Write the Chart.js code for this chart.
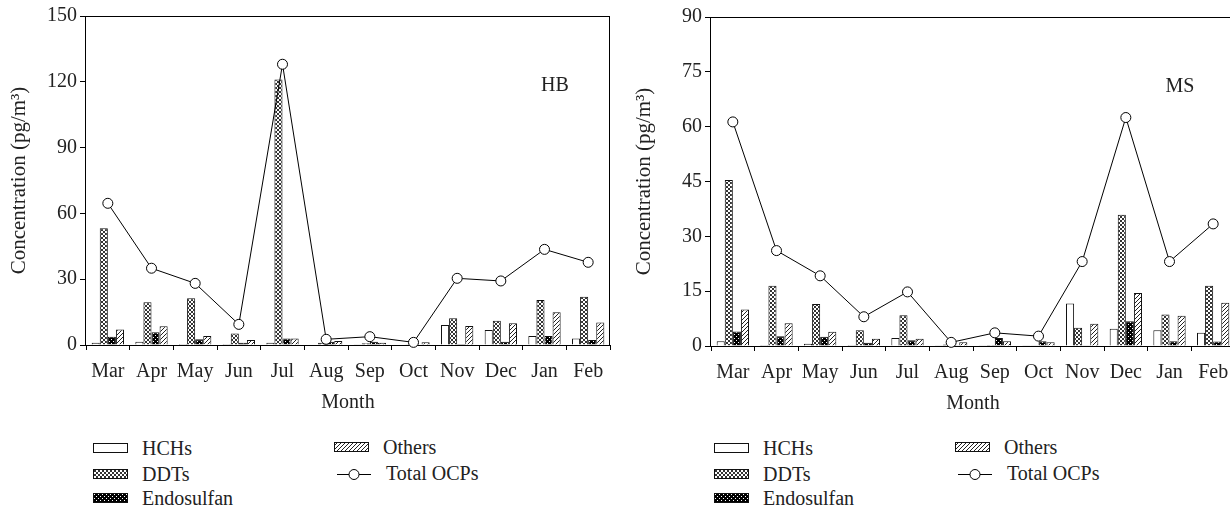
<!DOCTYPE html>
<html>
<head>
<meta charset="utf-8">
<script src="https://cdn.jsdelivr.net/npm/chart.js@4.4.0/dist/chart.umd.min.js"></script>
<style>
    html, body { margin: 0; padding: 0; background: #fff; overflow: hidden; width: 1230px; height: 508px; position: relative; }
    .box { position: absolute; }
    .lg-text { position: absolute; font: 20px "Liberation Serif", serif; color: #222; line-height: 24px; white-space: nowrap; }
    .lg-swatch { position: absolute; }
</style>
</head>
<body>
<div class="box" style="left:0; top:0; width:620px; height:420px;"><canvas id="chartHB"></canvas></div>
<div class="box" style="left:625px; top:1px; width:620px; height:420px;"><canvas id="chartMS"></canvas></div>
<div id="legends"></div>

<script>
// Month labels (sampling started in March)
const months = ['Mar', 'Apr', 'May', 'Jun', 'Jul', 'Aug', 'Sep', 'Oct', 'Nov', 'Dec', 'Jan', 'Feb'];

// HB site, pg/m3
const hbHCHs   = [1.0, 1.5, 0.5, 0.5, 1.0, 0.2, 0.3, 0.2, 9.1, 6.8, 4.1, 3.0];
const hbDDTs   = [53.2, 19.5, 21.3, 5.3, 121.0, 1.0, 0.8, 0.3, 12.2, 11.1, 20.5, 22.0];
const hbEndo   = [3.8, 5.8, 2.6, 1.0, 3.0, 1.5, 1.5, 0.2, 0.5, 1.5, 4.1, 2.3];
const hbOthers = [7.1, 8.5, 4.1, 2.3, 3.0, 1.8, 1.0, 1.2, 8.7, 9.9, 14.9, 10.3];
const hbTotal  = [64.6, 35.0, 28.1, 9.4, 128.0, 2.6, 3.8, 1.2, 30.4, 29.2, 43.6, 37.7];

// MS site, pg/m3
const msHCHs   = [1.3, 0.3, 0.6, 0.3, 2.2, 0.2, 0.2, 0.2, 11.6, 4.7, 4.3, 3.6];
const msDDTs   = [45.4, 16.5, 11.5, 4.3, 8.4, 0.4, 0.3, 0.2, 5.0, 35.9, 8.6, 16.5];
const msEndo   = [4.0, 2.7, 2.5, 0.9, 1.6, 0.2, 2.2, 1.3, 0.1, 6.8, 1.3, 1.2];
const msOthers = [10.0, 6.2, 3.9, 2.0, 2.0, 1.0, 1.3, 1.0, 6.1, 14.5, 8.3, 11.8];
const msTotal  = [61.3, 26.1, 19.2, 8.0, 14.8, 1.0, 3.6, 2.7, 23.1, 62.5, 23.1, 33.4];

const FONT = '"Liberation Serif", serif';
Chart.defaults.font.family = FONT;
Chart.defaults.font.size = 20;
Chart.defaults.color = '#222';

// Build small pixel tiles used as bar fill patterns
function makePattern(kind) {
    const tile = document.createElement('canvas');
    tile.width = 4;
    tile.height = 4;
    const g = tile.getContext('2d');
    if (kind === 'dots') {
        g.fillStyle = '#000';
        g.fillRect(0, 0, 4, 4);
        g.fillStyle = '#fff';
        g.fillRect(1, 1, 1, 1);
        g.fillRect(3, 3, 1, 1);
    } else {
        g.fillStyle = '#fff';
        g.fillRect(0, 0, 4, 4);
        g.fillStyle = kind === 'cross' ? '#333' : '#222';
        for (let i = 0; i < 4; i++) {
            g.fillRect(3 - i, i, 1, 1); // "/" diagonal
            if (kind === 'cross') g.fillRect(i, i, 1, 1); // "\" diagonal
        }
    }
    return g.createPattern(tile, 'repeat');
}

const fills = {
    hch: '#fff',
    ddt: makePattern('cross'),
    endo: makePattern('dots'),
    others: makePattern('hatch')
};

// Plot frame drawn under the datasets, plus the site tag
const framePlugin = {
    id: 'frame',
    beforeDatasetsDraw(chart) {
        const { ctx, chartArea: a } = chart;
        ctx.save();
        ctx.strokeStyle = '#000';
        ctx.lineWidth = 1;
        ctx.strokeRect(Math.round(a.left) - 0.5, Math.round(a.top) + 0.5, Math.round(a.right - a.left), Math.round(a.bottom - a.top));
        ctx.restore();
    },
    afterDraw(chart, args, opts) {
        const { ctx, chartArea: a } = chart;
        ctx.save();
        ctx.font = '20px ' + FONT;
        ctx.fillStyle = '#222';
        ctx.textAlign = 'center';
        ctx.textBaseline = 'middle';
        ctx.fillText(opts.tag, a.right - 55, a.top + 70);
        ctx.restore();
    }
};

function barSet(label, data, fill) {
    return {
        type: 'bar',
        label: label,
        data: data,
        backgroundColor: fill,
        borderColor: '#111',
        borderWidth: 1,
        barPercentage: 1.0,
        categoryPercentage: 0.74,
        order: 2
    };
}

function makeChart(id, tag, hch, ddt, endo, others, total, yMax, yStep) {
    return new Chart(document.getElementById(id), {
        data: {
            labels: months,
            datasets: [
                {
                    type: 'line',
                    label: 'Total OCPs',
                    data: total,
                    borderColor: '#000',
                    borderWidth: 1,
                    pointRadius: 5,
                    pointBackgroundColor: '#fff',
                    pointBorderColor: '#000',
                    pointBorderWidth: 1,
                    tension: 0,
                    clip: false,
                    order: 1
                },
                barSet('HCHs', hch, fills.hch),
                barSet('DDTs', ddt, fills.ddt),
                barSet('Endosulfan', endo, fills.endo),
                barSet('Others', others, fills.others)
            ]
        },
        options: {
            responsive: true,
            maintainAspectRatio: false,
            animation: false,
            layout: { padding: { top: 16, right: 10, left: 0, bottom: 0 } },
            plugins: {
                legend: { display: false },
                tooltip: { enabled: false },
                frame: { tag: tag }
            },
            scales: {
                x: {
                    offset: true,
                    grid: { drawOnChartArea: false, drawTicks: true, tickLength: 5, color: '#000', offset: true },
                    border: { display: false },
                    ticks: { padding: 10, maxRotation: 0, autoSkip: false },
                    title: { display: true, text: 'Month', padding: { top: 0, bottom: 5 } },
                    afterFit: (s) => { s.height = 75; }
                },
                y: {
                    min: 0,
                    max: yMax,
                    grid: { drawOnChartArea: false, drawTicks: true, tickLength: 6, color: '#000' },
                    border: { display: false },
                    ticks: { stepSize: yStep, padding: 3 },
                    title: { display: true, text: 'Concentration (pg/m³)', font: { size: 21 }, padding: { top: 7, bottom: 0 } },
                    afterFit: (s) => { s.width = 86; }
                }
            }
        },
        plugins: [framePlugin]
    });
}

makeChart('chartHB', 'HB', hbHCHs, hbDDTs, hbEndo, hbOthers, hbTotal, 150, 30);
makeChart('chartMS', 'MS', msHCHs, msDDTs, msEndo, msOthers, msTotal, 90, 15);

// HTML legend under each panel (two columns, like the original figure)
function swatch(parent, x, y, w, h, draw) {
    const c = document.createElement('canvas');
    c.width = w;
    c.height = h;
    c.className = 'lg-swatch';
    c.style.left = x + 'px';
    c.style.top = y + 'px';
    draw(c.getContext('2d'), w, h);
    parent.appendChild(c);
}

function boxSwatch(fill) {
    return (g, w, h) => {
        g.fillStyle = fill;
        g.fillRect(0, 0, w, h);
        g.strokeStyle = '#111';
        g.lineWidth = 1;
        g.strokeRect(0.5, 0.5, w - 1, h - 1);
    };
}

function text(parent, x, cy, str) {
    const t = document.createElement('div');
    t.className = 'lg-text';
    t.style.left = x + 'px';
    t.style.top = (cy - 12) + 'px';
    t.textContent = str;
    parent.appendChild(t);
}

function buildLegend(dx) {
    const root = document.getElementById('legends');
    swatch(root, 93 + dx, 443, 35, 10, boxSwatch(fills.hch));
    text(root, 142 + dx, 448, 'HCHs');
    swatch(root, 93 + dx, 469, 35, 10, boxSwatch(fills.ddt));
    text(root, 142 + dx, 474, 'DDTs');
    swatch(root, 93 + dx, 493, 35, 10, boxSwatch(fills.endo));
    text(root, 142 + dx, 498, 'Endosulfan');
    swatch(root, 334 + dx, 442, 35, 10, boxSwatch(fills.others));
    text(root, 383 + dx, 447, 'Others');
    swatch(root, 336 + dx, 467, 36, 14, (g, w, h) => {
        g.strokeStyle = '#000';
        g.lineWidth = 1;
        g.beginPath();
        g.moveTo(1, 7.5);
        g.lineTo(35, 7.5);
        g.stroke();
        g.beginPath();
        g.arc(18, 7.5, 5, 0, Math.PI * 2);
        g.fillStyle = '#fff';
        g.fill();
        g.stroke();
    });
    text(root, 386 + dx, 473, 'Total OCPs');
}

buildLegend(0);
buildLegend(621);
</script>
</body>
</html>
